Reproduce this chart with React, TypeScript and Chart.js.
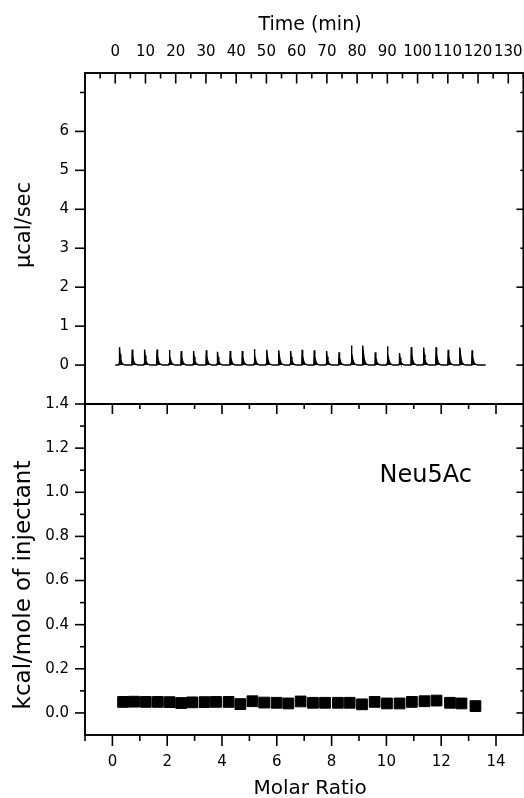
import React, { useEffect, useRef } from 'react';
import { Chart, registerables } from 'chart.js';

Chart.register(...registerables);

// ---- Raw thermogram (top panel) ----
const injectionTimes = [
  1.3, 5.5, 9.6, 13.7, 17.8, 21.7, 25.8, 30.0, 33.7, 37.9,
  41.9, 45.9, 50.0, 54.0, 57.9, 61.7, 65.7, 69.8, 73.9, 78.0,
  81.8, 85.9, 89.9, 93.9, 97.8, 101.9, 106.0, 110.0, 113.9, 117.9,
];
const peakHeights = [
  0.46, 0.40, 0.40, 0.40, 0.385, 0.36, 0.36, 0.38, 0.34, 0.36,
  0.36, 0.41, 0.39, 0.38, 0.36, 0.39, 0.38, 0.36, 0.33, 0.50,
  0.50, 0.33, 0.48, 0.31, 0.46, 0.45, 0.46, 0.39, 0.45, 0.38,
];
// shape of one injection peak: time offset (min) and fraction of peak height
const peakShapeOffsets = [-0.15, 0.0, 0.12, 0.3, 0.55, 0.9, 1.4, 2.0];
const peakShapeFractions = [0, 0.1, 1.0, 0.6, 0.3, 0.12, 0.04, 0];
const baselineStart = 0;
const baselineEnd = 122.5;

// ---- Integrated heats (bottom panel) ----
const molarRatios = [
  0.39, 0.79, 1.22, 1.66, 2.09, 2.51, 2.91, 3.36, 3.78, 4.24,
  4.67, 5.11, 5.54, 5.99, 6.42, 6.87, 7.32, 7.76, 8.23, 8.66,
  9.11, 9.57, 10.02, 10.48, 10.93, 11.39, 11.83, 12.32, 12.74, 13.25,
];
const heats = [
  0.050, 0.051, 0.050, 0.050, 0.049, 0.045, 0.048, 0.049, 0.050, 0.050,
  0.040, 0.053, 0.047, 0.046, 0.043, 0.052, 0.046, 0.046, 0.046, 0.046,
  0.039, 0.050, 0.043, 0.043, 0.050, 0.053, 0.056, 0.046, 0.043, 0.031,
];

// ---- Ticks ----
const timeTicks = [0, 10, 20, 30, 40, 50, 60, 70, 80, 90, 100, 110, 120, 130];
const timeMinorTicks = [-5, 5, 15, 25, 35, 45, 55, 65, 75, 85, 95, 105, 115, 125, 135];
const powerTicks = [0, 1, 2, 3, 4, 5, 6];
const powerLeftMinor = [7];
const powerRightMajor = [0, 2, 4, 6];
const powerRightMinor = [1, 3, 5, 7];
const molarTicks = [0, 2, 4, 6, 8, 10, 12, 14];
const molarMinorTicks = [-1, 1, 3, 5, 7, 9, 11, 13];
const heatTicks = [0, 0.2, 0.4, 0.6, 0.8, 1.0, 1.2, 1.4];
const heatMinorTicks = [0.1, 0.3, 0.5, 0.7, 0.9, 1.1, 1.3];

const FONT = '"DejaVu Sans", "Liberation Sans", sans-serif';
const CANVAS_W = 532;
const CANVAS_H = 798;

function buildThermogram() {
  const pts: { x: number; y: number }[] = [{ x: baselineStart, y: 0 }];
  injectionTimes.forEach((t, i) => {
    peakShapeOffsets.forEach((o, k) => {
      pts.push({ x: t + o, y: peakHeights[i] * peakShapeFractions[k] });
    });
  });
  pts.push({ x: baselineEnd, y: 0 });
  return pts;
}

const fixedSize = (size: number) => (scale: any) => {
  if (scale.isHorizontal()) scale.height = size;
  else scale.width = size;
  scale.paddingLeft = 0;
  scale.paddingRight = 0;
  scale.paddingTop = 0;
  scale.paddingBottom = 0;
};

const setTicks = (vals: number[]) => (scale: any) => {
  scale.ticks = vals.map((v) => ({ value: v }));
};

const framePlugin = {
  id: 'itcFrame',
  afterDraw(chart: any) {
    const { ctx, chartArea: a, scales } = chart;
    const xT = scales.xTime;
    const yP = scales.yPower;
    const xM = scales.xMolar;
    const yH = scales.yHeat;
    const mid = yH.top;
    ctx.save();
    ctx.strokeStyle = '#000';
    ctx.lineCap = 'butt';
    const line = (x0: number, y0: number, x1: number, y1: number) => {
      ctx.beginPath();
      ctx.moveTo(x0, y0);
      ctx.lineTo(x1, y1);
      ctx.stroke();
    };
    ctx.lineWidth = 1.9;
    ctx.strokeRect(a.left, a.top, a.right - a.left, a.bottom - a.top);
    line(a.left, mid, a.right, mid);

    ctx.lineWidth = 1.6;
    const vt = (x: number, y0: number, len: number) => line(x, y0, x, y0 + len);
    const ht = (y: number, x0: number, len: number) => line(x0, y, x0 + len, y);

    // top (time) axis, inward
    timeTicks.forEach((v) => vt(xT.getPixelForValue(v), a.top, 10.5));
    timeMinorTicks.forEach((v) => vt(xT.getPixelForValue(v), a.top, 5.5));
    // top panel left, outward
    powerTicks.forEach((v) => ht(yP.getPixelForValue(v), a.left, -10));
    powerLeftMinor.forEach((v) => ht(yP.getPixelForValue(v), a.left, -5));
    // top panel right, inward
    powerRightMajor.forEach((v) => ht(yP.getPixelForValue(v), a.right, -7));
    powerRightMinor.forEach((v) => ht(yP.getPixelForValue(v), a.right, -3));
    // bottom panel top edge, inward
    molarTicks.forEach((v) => vt(xM.getPixelForValue(v), mid, 10));
    molarMinorTicks.forEach((v) => vt(xM.getPixelForValue(v), mid, 5));
    // bottom panel left, outward
    heatTicks.forEach((v) => ht(yH.getPixelForValue(v), a.left, -10));
    heatMinorTicks.forEach((v) => ht(yH.getPixelForValue(v), a.left, -5));
    // bottom panel right, inward
    heatTicks.forEach((v) => ht(yH.getPixelForValue(v), a.right, -7));
    heatMinorTicks.forEach((v) => ht(yH.getPixelForValue(v), a.right, -3));
    // bottom axis, outward
    molarTicks.forEach((v) => vt(xM.getPixelForValue(v), a.bottom, 11));
    molarMinorTicks.forEach((v) => vt(xM.getPixelForValue(v), a.bottom, 6));

    // titles
    ctx.fillStyle = '#000';
    ctx.textAlign = 'center';
    ctx.textBaseline = 'alphabetic';
    ctx.font = `19px ${FONT}`;
    ctx.fillText('Time (min)', 310, 29.5);
    ctx.font = `20px ${FONT}`;
    ctx.fillText('Molar Ratio', 310, 793.5);

    ctx.textBaseline = 'middle';
    ctx.save();
    ctx.translate(25, 225);
    ctx.rotate(-Math.PI / 2);
    ctx.font = `21px ${FONT}`;
    ctx.fillText('\u00b5cal/sec', 0, 0);
    ctx.restore();

    ctx.save();
    ctx.translate(24, 585);
    ctx.rotate(-Math.PI / 2);
    ctx.font = `23px ${FONT}`;
    ctx.fillText('kcal/mole of injectant', 0, 0);
    ctx.restore();

    ctx.textAlign = 'left';
    ctx.textBaseline = 'alphabetic';
    ctx.font = `24px ${FONT}`;
    ctx.fillText('Neu5Ac', xM.getPixelForValue(9.75), yH.getPixelForValue(1.045));
    ctx.restore();
  },
};

export default function App() {
  const ref = useRef<HTMLCanvasElement | null>(null);

  useEffect(() => {
    if (!ref.current) return;
    const tickFont = { family: FONT, size: 15 };
    const chart = new Chart(ref.current, {
      type: 'scatter',
      data: {
        datasets: [
          {
            label: 'thermogram',
            data: buildThermogram(),
            xAxisID: 'xTime',
            yAxisID: 'yPower',
            showLine: true,
            borderColor: '#000',
            backgroundColor: '#000',
            borderWidth: 1.4,
            pointRadius: 0,
            tension: 0,
            fill: 'origin',
          },
          {
            label: 'heats',
            data: molarRatios.map((x, i) => ({ x, y: heats[i] })),
            xAxisID: 'xMolar',
            yAxisID: 'yHeat',
            showLine: false,
            pointStyle: 'rect',
            pointRadius: 7.6,
            backgroundColor: '#000',
            borderColor: '#000',
            borderWidth: 1,
          },
        ],
      } as any,
      options: {
        responsive: false,
        animation: false,
        events: [],
        layout: { padding: { left: 0, top: 0, right: CANVAS_W - 525.5, bottom: 0 } },
        plugins: { legend: { display: false }, tooltip: { enabled: false } },
        scales: {
          xTime: {
            type: 'linear',
            position: 'top',
            min: -10,
            max: 135,
            afterBuildTicks: setTicks(timeTicks),
            afterFit: fixedSize(73),
            grid: { display: false, drawTicks: false },
            border: { display: false },
            ticks: { autoSkip: false, maxRotation: 0, minRotation: 0, padding: 12, color: '#000', font: tickFont, callback: (v: any) => String(v) },
          },
          xMolar: {
            type: 'linear',
            position: 'bottom',
            min: -1,
            max: 15,
            afterBuildTicks: setTicks(molarTicks),
            afterFit: fixedSize(CANVAS_H - 735),
            grid: { display: false, drawTicks: false },
            border: { display: false },
            ticks: { autoSkip: false, maxRotation: 0, minRotation: 0, padding: 18, color: '#000', font: tickFont, callback: (v: any) => String(v) },
          },
          yPower: {
            type: 'linear',
            position: 'left',
            stack: 'panels',
            stackWeight: 1,
            weight: 1,
            min: -1,
            max: 7.5,
            afterBuildTicks: setTicks(powerTicks),
            afterFit: fixedSize(85),
            grid: { display: false, drawTicks: false },
            border: { display: false },
            ticks: { autoSkip: false, padding: 16, color: '#000', font: tickFont, callback: (v: any) => String(v) },
          },
          yHeat: {
            type: 'linear',
            position: 'left',
            stack: 'panels',
            stackWeight: 1,
            weight: 0,
            min: -0.1,
            max: 1.4,
            afterBuildTicks: setTicks(heatTicks),
            afterFit: fixedSize(85),
            grid: { display: false, drawTicks: false },
            border: { display: false },
            ticks: { autoSkip: false, padding: 16, color: '#000', font: tickFont, callback: (v: any) => Number(v).toFixed(1) },
          },
        } as any,
      },
      plugins: [framePlugin],
    });
    return () => chart.destroy();
  }, []);

  return (
    <div
      style={{
        position: 'fixed',
        left: 0,
        top: 0,
        width: 524,
        height: CANVAS_H,
        overflow: 'hidden',
        background: '#fff',
      }}
    >
      <canvas ref={ref} width={CANVAS_W} height={CANVAS_H} style={{ display: 'block' }} />
    </div>
  );
}
